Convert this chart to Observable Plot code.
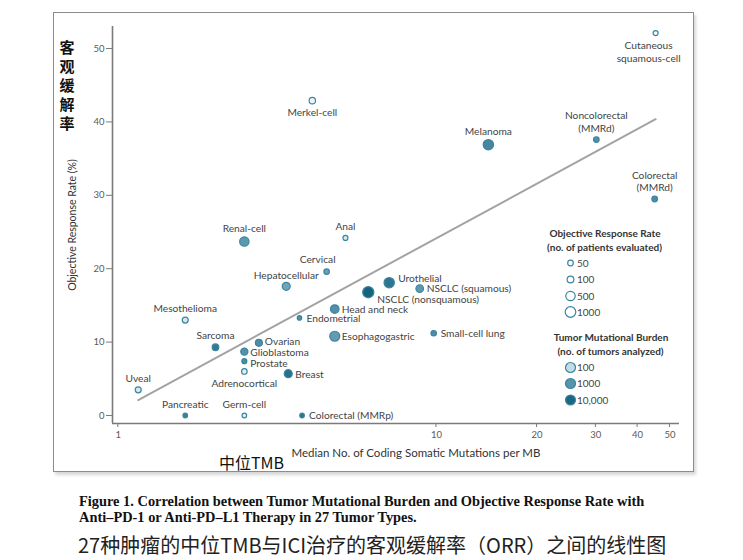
<!DOCTYPE html>
<html>
<head>
<meta charset="utf-8">
<script src="https://cdn.jsdelivr.net/npm/d3@7"></script>
<script src="https://cdn.jsdelivr.net/npm/@observablehq/plot@0.6"></script>
<style>
  html, body { margin: 0; padding: 0; background: #fff; }
  body { width: 743px; height: 560px; position: relative; overflow: hidden; font-family: Lato, "Noto Sans", sans-serif; }
  #frame { position: absolute; left: 53px; top: 12px; width: 639px; height: 458px; border: 1.5px solid #8c8c8c; box-shadow: 2px 3px 3px rgba(0,0,0,0.16); }
  #chart { position: absolute; left: 0; top: 0; }
  #overlay { position: absolute; left: 0; top: 0; pointer-events: none; }
  .abs { position: absolute; white-space: nowrap; }
  #ycn { left: 57px; top: 37px; width: 20px; text-align: center; font-family: "Noto Sans CJK SC"; font-weight: 700; font-size: 15px; line-height: 19px; color: #111; }
  #xcn { left: 219px; top: 451px; font-family: "Noto Sans CJK SC"; font-size: 16px; line-height: 22px; color: #111; }
  #xtitle { left: 216px; top: 446px; width: 400px; text-align: center; font-size: 11.5px; line-height: 14px; color: #333; }
  #cap { left: 79px; top: 494px; font-family: "Liberation Serif", serif; font-weight: 700; font-size: 14.4px; line-height: 15.5px; color: #111; }
  #capcn { left: 78px; top: 531px; font-family: "Noto Sans CJK SC"; font-size: 20px; line-height: 28px; color: #222; }
</style>
</head>
<body>
<div id="frame"></div>
<div id="chart"></div>
<svg id="overlay" width="743" height="560"></svg>
<div id="ycn" class="abs">客<br>观<br>缓<br>解<br>率</div>
<div id="xcn" class="abs">中位TMB</div>
<div id="xtitle" class="abs">Median No. of Coding Somatic Mutations per MB</div>
<div id="cap" class="abs">Figure 1. Correlation between Tumor Mutational Burden and Objective Response Rate with<br>Anti–PD-1 or Anti-PD–L1 Therapy in 27 Tumor Types.</div>
<div id="capcn" class="abs">27种肿瘤的中位TMB与ICI治疗的客观缓解率（ORR）之间的线性图</div>
<script>
// ---------- data ----------
const tumorTypes = [
  "Cutaneous\nsquamous-cell", "Merkel-cell", "Melanoma", "Noncolorectal\n(MMRd)", "Colorectal\n(MMRd)",
  "Renal-cell", "Anal", "Cervical", "Hepatocellular", "Urothelial",
  "NSCLC (nonsquamous)", "NSCLC (squamous)", "Head and neck", "Endometrial", "Esophagogastric",
  "Small-cell lung", "Mesothelioma", "Sarcoma", "Ovarian", "Glioblastoma",
  "Prostate", "Adrenocortical", "Breast", "Uveal", "Pancreatic",
  "Germ-cell", "Colorectal (MMRp)"
];
// median no. of coding somatic mutations per MB
const medianTMB = [
  45.3, 4.25, 14.3, 30.1, 45.0,
  2.66, 5.34, 4.69, 3.55, 7.22,
  6.25, 8.91, 4.96, 3.89, 4.96,
  9.81, 1.77, 2.18, 2.94, 2.66,
  2.66, 2.66, 3.60, 1.28, 1.77,
  2.66, 3.96
];
// objective response rate (%)
const responseRate = [
  52.1, 42.9, 36.9, 37.6, 29.5,
  23.7, 24.2, 19.6, 17.6, 18.1,
  16.8, 17.3, 14.5, 13.3, 10.8,
  11.2, 13.0, 9.3, 9.9, 8.7,
  7.4, 6.0, 5.7, 3.5, 0,
  0, 0
];
// no. of patients evaluated (circle size)
const patientsEvaluated = [
  35, 80, 850, 50, 50,
  480, 35, 45, 210, 850,
  1400, 165, 300, 25, 700,
  45, 64, 90, 115, 130,
  35, 50, 210, 64, 27,
  27, 27
];
// no. of tumors analyzed (circle shade)
const tumorsAnalyzed = [
  15, 20, 2000, 1200, 1500,
  900, 40, 700, 600, 5000,
  12000, 900, 1300, 1200, 800,
  1500, 50, 4000, 1500, 1200,
  1500, 30, 6000, 40, 3000,
  30, 6000
];
// fitted line: ORR = slope * log10(TMB) + intercept
const fitSlope = 24.7;
const fitIntercept = -0.54;

// axes
const yTicks = [0, 10, 20, 30, 40, 50];
const xTickLabels = ["1", "10", "20", "30", "40", "50"];
const xTickAt = [1.116, 10, 20, 30, 40, 50]; // the "1" tick sits where the picture draws it
const xDomain = [1.072, 53.4];
const yDomain = [-1.09, 53.0];

// legends
const orrLegendValues = [50, 100, 500, 1000];
const orrLegendLabels = ["50", "100", "500", "1000"];
const tmbLegendValues = [100, 1000, 10000];
const tmbLegendLabels = ["100", "1000", "10,000"];

// ---------- label placement (style, kept apart from the data) ----------
const placement = {
  "Cutaneous\nsquamous-cell": "bottomLeft",
  "Merkel-cell": "bottom",
  "Melanoma": "topBig",
  "Noncolorectal\n(MMRd)": "top",
  "Colorectal\n(MMRd)": "top",
  "Renal-cell": "topBig",
  "Anal": "top",
  "Cervical": "topLeft",
  "Hepatocellular": "top",
  "Urothelial": "upRight",
  "NSCLC (nonsquamous)": "downRight",
  "NSCLC (squamous)": "right",
  "Head and neck": "right",
  "Endometrial": "right",
  "Esophagogastric": "right",
  "Small-cell lung": "right",
  "Mesothelioma": "top",
  "Sarcoma": "top",
  "Ovarian": "rightHigh",
  "Glioblastoma": "rightMid",
  "Prostate": "rightLow",
  "Adrenocortical": "bottom",
  "Breast": "right",
  "Uveal": "top",
  "Pancreatic": "top",
  "Germ-cell": "top",
  "Colorectal (MMRp)": "right"
};
const placeStyle = {
  top:        {textAnchor: "middle", lineAnchor: "bottom", dx: 0,  dy: -7.8},
  topBig:     {textAnchor: "middle", lineAnchor: "bottom", dx: 0,  dy: -10},
  topLeft:    {textAnchor: "middle", lineAnchor: "bottom", dx: -9, dy: -8.2},
  bottom:     {textAnchor: "middle", lineAnchor: "top",    dx: 0,  dy: 7.0},
  bottomLeft: {textAnchor: "middle", lineAnchor: "top",    dx: -7, dy: 7.5},
  right:      {textAnchor: "start",  lineAnchor: "middle", dx: 7,  dy: 0},
  rightHigh:  {textAnchor: "start",  lineAnchor: "middle", dx: 6,  dy: -2.2},
  rightMid:   {textAnchor: "start",  lineAnchor: "middle", dx: 6,  dy: 0.8},
  rightLow:   {textAnchor: "start",  lineAnchor: "middle", dx: 6,  dy: 2.2},
  upRight:    {textAnchor: "start",  lineAnchor: "middle", dx: 9,  dy: -5},
  downRight:  {textAnchor: "start",  lineAnchor: "middle", dx: 9,  dy: 7}
};

const data = tumorTypes.map((name, i) => ({
  name, tmb: medianTMB[i], orr: responseRate[i],
  patients: patientsEvaluated[i], tumors: tumorsAnalyzed[i]
}));
const xExt = d3.extent(medianTMB);
const fitLine = xExt.map(x => ({x, y: fitSlope * Math.log10(x) + fitIntercept}));

const shadeStops = ["#ffffff", "#c4dbe4", "#5a94aa", "#1b6781"];
const shade = d3.piecewise(d3.interpolateRgb, shadeStops);
const ringColor = "#3a86a0";
const labelColor = "#444";

const textMarks = Object.entries(placeStyle).map(([key, st]) =>
  Plot.text(data.filter(d => placement[d.name] === key), {
    x: "tmb", y: "orr", text: "name",
    textAnchor: st.textAnchor, lineAnchor: st.lineAnchor, dx: st.dx, dy: st.dy,
    fill: labelColor, fontSize: 10.2, fontFamily: "Lato", lineHeight: 1.2
  })
);

const xTicks = xTickAt.map((v, i) => ({v, label: xTickLabels[i]}));

const plot = Plot.plot({
  width: 743, height: 445,
  marginLeft: 112, marginRight: 64, marginTop: 26, marginBottom: 22,
  style: {fontFamily: "Lato", fontSize: "9.5px", color: "#5a5a5a", background: "transparent", overflow: "visible"},
  x: {type: "log", domain: xDomain, axis: null},
  y: {domain: yDomain, axis: null},
  r: {type: "log", domain: [50, 1000], range: [2.8, 5.3]},
  color: {type: "log", domain: [10, 10000], interpolate: () => shade},
  marks: [
    Plot.ruleX([xDomain[0]], {stroke: "#7a7a7a", strokeWidth: 1.6}),
    Plot.ruleY([yDomain[0]], {stroke: "#7a7a7a", strokeWidth: 1.6}),
    Plot.axisY(yTicks, {tickSize: 6, tickPadding: 2, stroke: "#7a7a7a", fill: "#5a5a5a", fontSize: 9.5}),
    Plot.text(xTicks, {x: "v", y: yDomain[0], text: "label", dy: 11, fill: "#5a5a5a", fontSize: 9.5, fontFamily: "Lato"}),
    Plot.line(fitLine, {x: "x", y: "y", stroke: "#a3a3a3", strokeWidth: 2}),
    Plot.dot(data, {x: "tmb", y: "orr", r: "patients", fill: "tumors", stroke: ringColor, strokeWidth: 1.2}),
    ...textMarks
  ]
});
document.getElementById("chart").appendChild(plot);

// ---------- legends and x tick marks, drawn from the plot's own scales ----------
const rScale = plot.scale("r");
const cScale = plot.scale("color");
const xS = plot.scale("x");
const yS = plot.scale("y");
const ov = d3.select("#overlay");

const axisYpx = yS.apply(yDomain[0]);
xTickAt.forEach(v => {
  const px = xS.apply(v);
  ov.append("line").attr("x1", px).attr("x2", px).attr("y1", axisYpx).attr("y2", axisYpx + 4)
    .attr("stroke", "#7a7a7a").attr("stroke-width", 1);
});

// y axis title
ov.append("text")
  .attr("transform", "translate(76,225) rotate(-90)")
  .attr("text-anchor", "middle")
  .attr("font-family", "Lato").attr("font-size", 10.5).attr("fill", "#333")
  .text("Objective Response Rate (%)");

function title(x, y, t, bold) {
  ov.append("text").attr("x", x).attr("y", y).attr("dy", "0.35em")
    .attr("text-anchor", "middle").attr("font-family", "Lato")
    .attr("font-weight", bold ? 700 : 400).attr("font-size", 10).attr("fill", "#333").text(t);
}
title(605, 233, "Objective Response Rate", true);
title(604.5, 247, "(no. of patients evaluated)", true);
title(611, 337, "Tumor Mutational Burden", true);
title(610.5, 351, "(no. of tumors analyzed)", true);

const orrY = [263, 279.5, 296, 312];
orrLegendValues.forEach((v, i) => {
  ov.append("circle").attr("cx", 570.5).attr("cy", orrY[i]).attr("r", rScale.apply(v))
    .attr("fill", "#fff").attr("stroke", ringColor).attr("stroke-width", 1.2);
  ov.append("text").attr("x", 577).attr("y", orrY[i]).attr("dy", "0.35em")
    .attr("font-family", "Lato").attr("font-size", 10).attr("fill", labelColor).text(orrLegendLabels[i]);
});
const tmbY = [367.5, 383.5, 400];
tmbLegendValues.forEach((v, i) => {
  ov.append("circle").attr("cx", 570.5).attr("cy", tmbY[i]).attr("r", 5)
    .attr("fill", cScale.apply(v)).attr("stroke", ringColor).attr("stroke-width", 1.2);
  ov.append("text").attr("x", 577).attr("y", tmbY[i]).attr("dy", "0.35em")
    .attr("font-family", "Lato").attr("font-size", 10).attr("fill", labelColor).text(tmbLegendLabels[i]);
});
</script>
</body>
</html>
